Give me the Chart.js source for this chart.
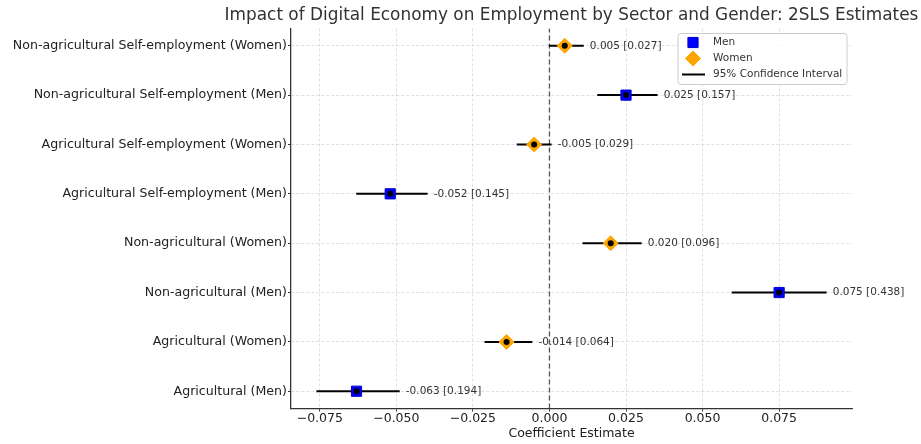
<!DOCTYPE html>
<html>
<head>
<meta charset="utf-8">
<script src="https://cdn.jsdelivr.net/npm/chart.js@4/dist/chart.umd.min.js"></script>
<style>
  html, body { margin: 0; padding: 0; background: #fff; }
  #wrap { width: 921px; height: 444px; position: relative; }
</style>
</head>
<body>
<div id="wrap"><canvas id="c" width="921" height="444"></canvas></div>
<script>
// ---- Data (rows listed bottom to top) ----
const categories = [
  "Agricultural (Men)",
  "Agricultural (Women)",
  "Non-agricultural (Men)",
  "Non-agricultural (Women)",
  "Agricultural Self-employment (Men)",
  "Agricultural Self-employment (Women)",
  "Non-agricultural Self-employment (Men)",
  "Non-agricultural Self-employment (Women)"
];
const genders = ["Men", "Women", "Men", "Women", "Men", "Women", "Men", "Women"];
const estimates = [-0.063, -0.014, 0.075, 0.020, -0.052, -0.005, 0.025, 0.005];
const bracketValues = [0.194, 0.064, 0.438, 0.096, 0.145, 0.029, 0.157, 0.027];
const ciLow  = [-0.0761, -0.0212, 0.0595, 0.0108, -0.0631, -0.0107, 0.0156, -0.0002];
const ciHigh = [-0.0489, -0.0056, 0.0905, 0.0301, -0.0398, 0.0007, 0.0353, 0.0112];
const xTickValues = [-0.075, -0.050, -0.025, 0.000, 0.025, 0.050, 0.075];
const titleText = "Impact of Digital Economy on Employment by Sector and Gender: 2SLS Estimates";
const xAxisTitle = "Coefficient Estimate";
const legendLabels = ["Men", "Women", "95% Confidence Interval"];

const FONT = "'DejaVu Sans', sans-serif";
const MEN_COLOR = "#0000ff";
const WOMEN_COLOR = "#ffa500";

const fmt = v => (v < 0 ? "\u2212" : "") + Math.abs(v).toFixed(3);

// ---- Datasets ----
const datasets = [];
categories.forEach((c, i) => {
  datasets.push({
    type: "line",
    data: [{x: ciLow[i], y: i}, {x: ciHigh[i], y: i}],
    borderColor: "#000",
    borderWidth: 2,
    pointRadius: 0,
    showLine: true,
    order: 3
  });
});
datasets.push({
  type: "line",
  data: [{x: 0, y: -0.35}, {x: 0, y: 7.35}],
  borderColor: "#555",
  borderWidth: 1.3,
  borderDash: [5, 3],
  pointRadius: 0,
  showLine: true,
  order: 4
});
datasets.push({
  type: "scatter",
  data: estimates.map((v, i) => ({x: v, y: i})).filter((p, i) => genders[i] === "Men"),
  pointStyle: "rect",
  pointRadius: 7.2,
  backgroundColor: MEN_COLOR,
  borderColor: "#0000cc",
  borderWidth: 1,
  order: 2
});
datasets.push({
  type: "scatter",
  data: estimates.map((v, i) => ({x: v, y: i})).filter((p, i) => genders[i] === "Women"),
  pointStyle: "rectRot",
  pointRadius: 7.5,
  backgroundColor: WOMEN_COLOR,
  borderColor: WOMEN_COLOR,
  borderWidth: 1,
  order: 1
});
datasets.push({
  type: "scatter",
  data: estimates.map((v, i) => ({x: v, y: i})),
  pointStyle: "circle",
  pointRadius: 3,
  backgroundColor: "#000",
  borderColor: "#000",
  borderWidth: 0,
  order: 0
});

// ---- Plugins: title, annotations, legend ----
const annotPlugin = {
  id: "annot",
  afterDatasetsDraw(chart) {
    const {ctx, scales: {x, y}, chartArea} = chart;
    ctx.save();
    ctx.font = "16.9px " + FONT;
    ctx.fillStyle = "#333";
    ctx.textAlign = "center";
    ctx.textBaseline = "middle";
    ctx.fillText(titleText, (chartArea.left + chartArea.right) / 2, 16);

    ctx.font = "10.5px " + FONT;
    ctx.fillStyle = "#333";
    ctx.textBaseline = "middle";
    ctx.textAlign = "left";
    categories.forEach((c, i) => {
      const px = x.getPixelForValue(ciHigh[i] + 0.002);
      const py = y.getPixelForValue(i);
      ctx.fillText(fmt(estimates[i]).replace("\u2212", "-") + " [" + bracketValues[i].toFixed(3) + "]", px, py);
    });
    ctx.restore();
  },
  afterDraw(chart) {
    const {ctx, chartArea} = chart;
    const boxW = 169, boxH = 51;
    const bx = chartArea.right - 5 - boxW, by = chartArea.top + 5;
    ctx.save();
    const r = 3;
    ctx.beginPath();
    ctx.moveTo(bx + r, by);
    ctx.lineTo(bx + boxW - r, by);
    ctx.arcTo(bx + boxW, by, bx + boxW, by + r, r);
    ctx.lineTo(bx + boxW, by + boxH - r);
    ctx.arcTo(bx + boxW, by + boxH, bx + boxW - r, by + boxH, r);
    ctx.lineTo(bx + r, by + boxH);
    ctx.arcTo(bx, by + boxH, bx, by + boxH - r, r);
    ctx.lineTo(bx, by + r);
    ctx.arcTo(bx, by, bx + r, by, r);
    ctx.closePath();
    ctx.fillStyle = "rgba(255,255,255,0.85)";
    ctx.fill();
    ctx.strokeStyle = "#cccccc";
    ctx.lineWidth = 1;
    ctx.stroke();

    const mx = bx + 15;
    const rows = [by + 9, by + 25, by + 41];
    ctx.fillStyle = MEN_COLOR;
    ctx.strokeStyle = "#0000cc";
    ctx.lineWidth = 1;
    Chart.helpers.drawPoint(ctx, {pointStyle: "rect", radius: 7.2, borderWidth: 1, rotation: 0}, mx, rows[0]);
    ctx.fillStyle = WOMEN_COLOR;
    ctx.strokeStyle = WOMEN_COLOR;
    Chart.helpers.drawPoint(ctx, {pointStyle: "rectRot", radius: 7.5, borderWidth: 1, rotation: 0}, mx, rows[1]);
    ctx.strokeStyle = "#000";
    ctx.lineWidth = 2;
    ctx.beginPath();
    ctx.moveTo(mx - 11, rows[2]);
    ctx.lineTo(mx + 12, rows[2]);
    ctx.stroke();

    ctx.font = "10.5px " + FONT;
    ctx.fillStyle = "#333";
    ctx.textBaseline = "middle";
    ctx.textAlign = "left";
    legendLabels.forEach((t, k) => ctx.fillText(t, bx + 35, rows[k]));
    ctx.restore();
  }
};

new Chart(document.getElementById("c"), {
  type: "scatter",
  data: {datasets},
  options: {
    responsive: false,
    animation: false,
    devicePixelRatio: 1,
    layout: {padding: {left: 0, right: 69, top: 28.5, bottom: 0}},
    plugins: {
      legend: {display: false},
      tooltip: {enabled: false},
      title: {display: false}
    },
    scales: {
      x: {
        type: "linear",
        min: -0.0844,
        max: 0.0988,
        afterFit: s => { s.height = 35.5; },
        afterBuildTicks: s => { s.ticks = xTickValues.map(v => ({value: v})); },
        ticks: {
          callback: v => fmt(v),
          color: "#222",
          font: {family: FONT, size: 12.5},
          padding: 0,
          maxRotation: 0,
          autoSkip: false
        },
        grid: {
          color: "#d8d8d8",
          lineWidth: 0.8,
          tickLength: 3,
          tickColor: "#333",
          tickWidth: 1,
          tickBorderDash: []
        },
        border: {display: true, color: "#333", width: 1.3, dash: [3, 2]},
        title: {
          display: true,
          text: xAxisTitle,
          color: "#222",
          font: {family: FONT, size: 12.5},
          padding: {top: 0, bottom: 3}
        }
      },
      y: {
        type: "linear",
        min: -0.35,
        max: 7.35,
        afterFit: s => { s.width = 291; },
        afterBuildTicks: s => { s.ticks = categories.map((c, i) => ({value: i})); },
        ticks: {
          callback: v => categories[v],
          color: "#222",
          font: {family: FONT, size: 12.6},
          padding: 1,
          autoSkip: false
        },
        grid: {
          color: "#d8d8d8",
          lineWidth: 0.8,
          tickLength: 3,
          tickColor: "#333",
          tickWidth: 1,
          tickBorderDash: []
        },
        border: {display: true, color: "#333", width: 1.3, dash: [3, 2]}
      }
    }
  },
  plugins: [annotPlugin]
});
</script>
</body>
</html>
